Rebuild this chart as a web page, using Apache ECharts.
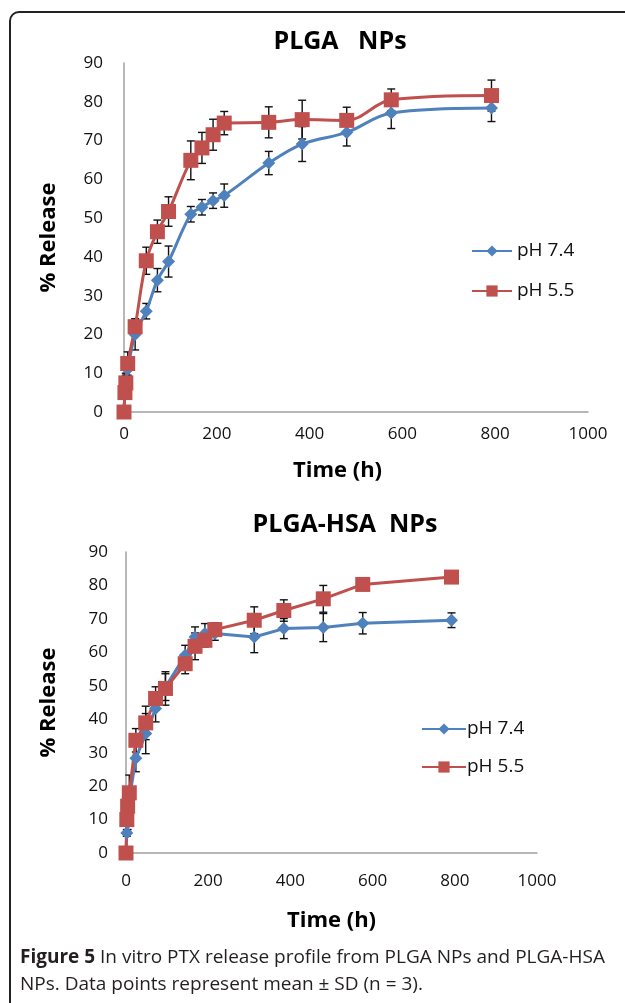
<!DOCTYPE html>
<html>
<head>
<meta charset="utf-8">
<script src="https://cdn.jsdelivr.net/npm/echarts@6/dist/echarts.min.js"></script>
<style>
  html, body { margin: 0; padding: 0; background: #ffffff; }
  #chart { width: 625px; height: 1003px; }
</style>
</head>
<body>
<div id="chart"></div>
<script>
// sampling times (h), shared by both panels
var hours = [0, 2, 4, 8, 24, 48, 72, 96, 144, 168, 192, 216, 312, 384, 480, 576, 792]

// PLGA NPs
var plgaPH74 = [0, 5, 8, 11, 20, 26, 34, 38.8, 51, 52.8, 54.5, 55.8, 64.2, 69.1, 72.1, 77.1, 78.4]
var plgaPH74SD = [0, 1, 2, 3, 4, 2, 3, 4, 2, 2, 2, 3, 3, 4.5, 3.5, 4, 3.5]
var plgaPH55 = [0, 5, 7.5, 12.5, 22, 39, 46.5, 51.7, 64.9, 68.1, 71.5, 74.5, 74.7, 75.4, 75.2, 80.5, 81.6]
var plgaPH55SD = [0, 1, 2, 3, 2, 3.5, 3, 3.8, 5, 4, 4, 3, 4, 5, 3.4, 2.8, 4]

// PLGA-HSA NPs
var hsaPH74 = [0, 6, 9, 16, 28.3, 35.7, 43.2, 49.6, 59.1, 64.6, 65.6, 65.6, 64.6, 67.1, 67.4, 68.7, 69.6]
var hsaPH74SD = [0, 1, 2, 3, 4, 6, 4, 4, 3, 3, 3, 2, 4.7, 3, 4.2, 3.2, 2.2]
var hsaPH55 = [0, 10, 14, 18, 33.7, 38.9, 46.2, 49.2, 56.6, 61.8, 63.6, 66.8, 69.6, 72.5, 76, 80.3, 82.5]
var hsaPH55SD = [0, 2, 3, 5.3, 3.5, 5, 3.5, 5, 3, 4, 2, 2, 4, 3.2, 4, 0, 0]

var seriesNames = ['pH 7.4', 'pH 5.5']
var blue = '#4F81BD'
var red = '#C0504D'
var font = '"Open Sans", "Noto Sans", sans-serif'

function pairs(vals) {
  return hours.map(function (h, i) { return [h, vals[i]] })
}
function triples(vals, sd) {
  return hours.map(function (h, i) { return [h, vals[i], sd[i]] })
}

// 误差线
function errorBars(vals, sd, idx) {
  return {
    type: 'custom',
    xAxisIndex: idx,
    yAxisIndex: idx,
    z: 1,
    silent: true,
    data: triples(vals, sd),
    renderItem: function (params, api) {
      var x = api.value(0)
      var y = api.value(1)
      var s = api.value(2)
      if (!s) return null
      var hi = api.coord([x, y + s])
      var lo = api.coord([x, y - s])
      var st = { stroke: '#111', lineWidth: 1.4 }
      return {
        type: 'group',
        children: [
          { type: 'line', shape: { x1: hi[0], y1: hi[1], x2: lo[0], y2: lo[1] }, style: st },
          { type: 'line', shape: { x1: hi[0] - 4, y1: hi[1], x2: hi[0] + 4, y2: hi[1] }, style: st },
          { type: 'line', shape: { x1: lo[0] - 4, y1: lo[1], x2: lo[0] + 4, y2: lo[1] }, style: st }
        ]
      }
    }
  }
}

function lineSeries(name, vals, idx, color, symbol, size, smooth) {
  return {
    name: name,
    type: 'line',
    xAxisIndex: idx,
    yAxisIndex: idx,
    z: 3,
    smooth: smooth,
    data: pairs(vals),
    symbol: symbol,
    symbolSize: size,
    itemStyle: { color: color },
    lineStyle: { color: color, width: 3 }
  }
}

function xAxisCfg(idx, pad, gap, labelMargin) {
  return {
    type: 'value',
    gridIndex: idx,
    min: 0,
    max: 1000,
    interval: 200,
    name: 'Time (h)',
    nameLocation: 'middle',
    nameGap: gap,
    nameTextStyle: { fontFamily: font, fontWeight: 'bold', fontSize: 22, color: '#000', padding: pad },
    axisLine: { onZero: false, lineStyle: { color: '#a0a0a0', width: 1.5 } },
    axisTick: { show: false },
    splitLine: { show: false },
    axisLabel: {
      fontFamily: font, fontSize: 17, color: '#111', margin: labelMargin,
      formatter: function (v) { return String(v) }
    }
  }
}

function yAxisCfg(idx, gap, labelMargin) {
  return {
    type: 'value',
    gridIndex: idx,
    min: 0,
    max: 90,
    interval: 10,
    name: '% Release',
    nameLocation: 'middle',
    nameGap: gap,
    nameRotate: 90,
    nameTextStyle: { fontFamily: font, fontWeight: 'bold', fontSize: 22, color: '#000' },
    axisLine: { show: true, lineStyle: { color: '#a0a0a0', width: 1.5 } },
    axisTick: { show: false },
    splitLine: { show: false },
    axisLabel: { fontFamily: font, fontSize: 17, color: '#111', margin: labelMargin }
  }
}

var myChart = echarts.init(document.getElementById('chart'))
var option = {
  backgroundColor: '#ffffff',
  animation: false,
  grid: [
    { left: 124, top: 63, width: 464, height: 349 },
    { left: 126, top: 552, width: 411, height: 301 }
  ],
  xAxis: [xAxisCfg(0, [0, 37, 0, 0], 48, 14), xAxisCfg(1, [0, 0, 0, 0], 57, 20)],
  yAxis: [yAxisCfg(0, 64, 21), yAxisCfg(1, 66, 18)],
  legend: [
    {
      data: seriesNames,
      orient: 'vertical',
      left: 466,
      top: 236,
      itemWidth: 40,
      itemHeight: 14,
      itemGap: 20,
      textStyle: { fontFamily: font, fontSize: 19, color: '#111', lineHeight: 20 }
    },
    {
      data: seriesNames,
      orient: 'vertical',
      left: 416,
      top: 714,
      itemWidth: 44,
      itemHeight: 14,
      itemGap: 18,
      textStyle: { fontFamily: font, fontSize: 19, color: '#111', lineHeight: 20, padding: [0, 0, 0, -4] }
    }
  ],
  graphic: [
    // 外框
    {
      type: 'rect',
      shape: { x: 10, y: 12, width: 700, height: 1100, r: 9 },
      style: { fill: 'none', stroke: '#222', lineWidth: 2 },
      silent: true
    },
    {
      type: 'text',
      x: 340, y: 42,
      style: { text: 'PLGA   NPs', fontFamily: font, fontWeight: 'bold', fontSize: 25, fill: '#000', textAlign: 'center', textVerticalAlign: 'middle' }
    },
    {
      type: 'text',
      x: 345, y: 525,
      style: { text: 'PLGA-HSA  NPs', fontFamily: font, fontWeight: 'bold', fontSize: 25, fill: '#000', textAlign: 'center', textVerticalAlign: 'middle' }
    },
    {
      type: 'text',
      x: 20, y: 944,
      style: {
        text: '{b|Figure 5} In vitro PTX release profile from PLGA NPs and PLGA-HSA\nNPs. Data points represent mean ± SD (n = 3).',
        fontFamily: font, fontSize: 19, fill: '#231f20', lineHeight: 27,
        rich: { b: { fontFamily: font, fontWeight: 'bold', fontSize: 19, fill: '#231f20' } }
      }
    }
  ],
  series: [
    errorBars(plgaPH74, plgaPH74SD, 0),
    errorBars(plgaPH55, plgaPH55SD, 0),
    lineSeries('pH 7.4', plgaPH74, 0, blue, 'diamond', 13, 0.35),
    lineSeries('pH 5.5', plgaPH55, 0, red, 'rect', 15, 0.35),
    errorBars(hsaPH74, hsaPH74SD, 1),
    errorBars(hsaPH55, hsaPH55SD, 1),
    lineSeries('pH 7.4', hsaPH74, 1, blue, 'diamond', 13, false),
    lineSeries('pH 5.5', hsaPH55, 1, red, 'rect', 15, false)
  ]
}
myChart.setOption(option, true)
</script>
</body>
</html>
